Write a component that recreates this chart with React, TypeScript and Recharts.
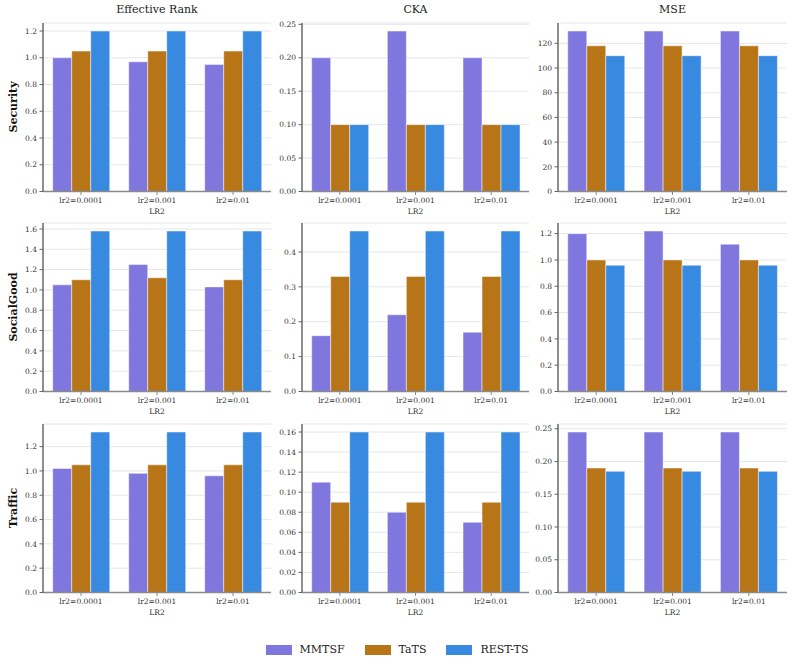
import React from 'react';
import { BarChart, Bar, XAxis, YAxis, CartesianGrid } from 'recharts';

const categories = ['lr2=0.0001', 'lr2=0.001', 'lr2=0.01'];
const datasets = ['Security', 'SocialGood', 'Traffic'];
const metrics = ['Effective Rank', 'CKA', 'MSE'];
const seriesNames = ['MMTSF', 'TaTS', 'REST-TS'];
const seriesColors = ['#7F77DE', '#B87518', '#388AE0'];

// rows: MMTSF, TaTS, REST-TS ; columns follow categories
const securityEffectiveRank = [[1.0, 0.97, 0.95], [1.05, 1.05, 1.05], [1.2, 1.2, 1.2]];
const securityCKA = [[0.2, 0.24, 0.2], [0.1, 0.1, 0.1], [0.1, 0.1, 0.1]];
const securityMSE = [[130, 130, 130], [118, 118, 118], [110, 110, 110]];
const socialGoodEffectiveRank = [[1.05, 1.25, 1.03], [1.1, 1.12, 1.1], [1.58, 1.58, 1.58]];
const socialGoodCKA = [[0.16, 0.22, 0.17], [0.33, 0.33, 0.33], [0.46, 0.46, 0.46]];
const socialGoodMSE = [[1.2, 1.22, 1.12], [1.0, 1.0, 1.0], [0.96, 0.96, 0.96]];
const trafficEffectiveRank = [[1.02, 0.98, 0.96], [1.05, 1.05, 1.05], [1.32, 1.32, 1.32]];
const trafficCKA = [[0.11, 0.08, 0.07], [0.09, 0.09, 0.09], [0.16, 0.16, 0.16]];
const trafficMSE = [[0.245, 0.245, 0.245], [0.19, 0.19, 0.19], [0.185, 0.185, 0.185]];

const ticksRank12 = ['0.0', '0.2', '0.4', '0.6', '0.8', '1.0', '1.2'];
const ticksRank16 = ['0.0', '0.2', '0.4', '0.6', '0.8', '1.0', '1.2', '1.4', '1.6'];
const ticksCKA025 = ['0.00', '0.05', '0.10', '0.15', '0.20', '0.25'];
const ticksCKA04 = ['0.0', '0.1', '0.2', '0.3', '0.4'];
const ticksCKA016 = ['0.00', '0.02', '0.04', '0.06', '0.08', '0.10', '0.12', '0.14', '0.16'];
const ticksMSE120 = ['0', '20', '40', '60', '80', '100', '120'];
const ticksMSE12 = ['0.0', '0.2', '0.4', '0.6', '0.8', '1.0', '1.2'];
const ticksMSE025 = ['0.00', '0.05', '0.10', '0.15', '0.20', '0.25'];

const panelValues = [
  [securityEffectiveRank, securityCKA, securityMSE],
  [socialGoodEffectiveRank, socialGoodCKA, socialGoodMSE],
  [trafficEffectiveRank, trafficCKA, trafficMSE],
];
const panelTicks = [
  [ticksRank12, ticksCKA025, ticksMSE120],
  [ticksRank16, ticksCKA04, ticksMSE12],
  [ticksRank12, ticksCKA016, ticksMSE025],
];

const FONT = '"DejaVu Serif", serif';
const TICK_FS = 7.5;
const colLeft = [43, 302, 558];
const colWidth = [228, 227, 229];
const rowTop = [22.5, 223, 423.5];
const plotH = 168.5;
const yAxisW = 40;
const mTop = 5;
const mRight = 5;
const xAxisH = 24;

function XTick(props: any) {
  const { x, y, payload } = props;
  return (
    <text x={x} y={y + 5.5} textAnchor="middle" fontSize={TICK_FS} fill="#333" fontFamily={FONT}>
      {payload.value}
    </text>
  );
}

function makeYTick(labels: string[], ticks: number[]) {
  return function YTick(props: any) {
    const { x, y, payload } = props;
    const i = ticks.indexOf(payload.value);
    return (
      <text x={x} y={y + 2.7} textAnchor="end" fontSize={TICK_FS} fill="#333" fontFamily={FONT}>
        {i >= 0 ? labels[i] : String(payload.value)}
      </text>
    );
  };
}

function XLabel(props: any) {
  const vb = props.viewBox || {};
  return (
    <text x={vb.x + vb.width / 2} y={vb.y + 22} textAnchor="middle" fontSize={TICK_FS} fill="#333" fontFamily={FONT}>
      LR2
    </text>
  );
}

function Panel({ r, c }: { r: number; c: number }) {
  const vals = panelValues[r][c];
  const tickLabels = panelTicks[r][c];
  const data = categories.map((cat, i) => {
    const row: any = { cat };
    seriesNames.forEach((s, k) => { row[s] = vals[k][i]; });
    return row;
  });
  const maxV = Math.max(...vals.flat());
  const ticks = tickLabels.map((t) => parseFloat(t));
  const w = yAxisW + colWidth[c] + mRight;
  const h = mTop + plotH + xAxisH;
  const YTick = makeYTick(tickLabels, ticks);
  return (
    <div style={{ position: 'absolute', left: colLeft[c] - yAxisW, top: rowTop[r] - mTop }}>
      <BarChart width={w} height={h} data={data} margin={{ top: mTop, right: mRight, left: 0, bottom: 0 }}
        barCategoryGap="12.8%" barGap={0}>
        <CartesianGrid vertical={false} stroke="#e6e6e6" strokeWidth={1} />
        <XAxis dataKey="cat" height={xAxisH} interval={0} tickSize={3.5} tickMargin={2}
          tick={<XTick />}
          axisLine={{ stroke: '#8a8a8a', strokeWidth: 1.6 }} tickLine={{ stroke: '#8a8a8a' }}
          label={<XLabel />} />
        <YAxis type="number" width={yAxisW} domain={[0, maxV * 1.05]} ticks={ticks} interval={0}
          tickSize={3.5} tickMargin={2.5}
          tick={<YTick />}
          axisLine={{ stroke: '#444', strokeWidth: 1.2 }} tickLine={{ stroke: '#666' }} />
        {seriesNames.map((s, k) => (
          <Bar key={s} dataKey={s} fill={seriesColors[k]} stroke="#ffffff" strokeOpacity={0.6}
            strokeWidth={0.8} isAnimationActive={false} />
        ))}
      </BarChart>
    </div>
  );
}

export default function App() {
  return (
    <div style={{ position: 'absolute', left: 0, top: 0, width: 794, height: 663, background: '#fff', fontFamily: FONT }}>
      {metrics.map((m, c) => (
        <div key={m} style={{ position: 'absolute', left: colLeft[c], width: colWidth[c], top: 2, textAlign: 'center',
          fontSize: 11, color: '#222', lineHeight: '16px' }}>{m}</div>
      ))}
      {datasets.map((d, r) => (
        <div key={d} style={{ position: 'absolute', left: 13, top: rowTop[r] + plotH / 2, width: 0, height: 0 }}>
          <div style={{ position: 'absolute', left: 0, top: 0, transform: 'translate(-50%, -50%) rotate(-90deg)',
            fontSize: 11, fontWeight: 'bold', color: '#111', whiteSpace: 'nowrap' }}>{d}</div>
        </div>
      ))}
      {datasets.map((d, r) => metrics.map((m, c) => <Panel key={d + m} r={r} c={c} />))}
      <div style={{ position: 'absolute', left: 0, width: 794, top: 643, display: 'flex', justifyContent: 'center' }}>
        {seriesNames.map((s, k) => (
          <div key={s} style={{ display: 'flex', alignItems: 'center', marginLeft: k === 0 ? 0 : 20 }}>
            <div style={{ width: 26, height: 10, background: seriesColors[k], marginRight: 8 }} />
            <span style={{ fontSize: 11, color: '#222', lineHeight: '14px' }}>{s}</span>
          </div>
        ))}
      </div>
    </div>
  );
}
